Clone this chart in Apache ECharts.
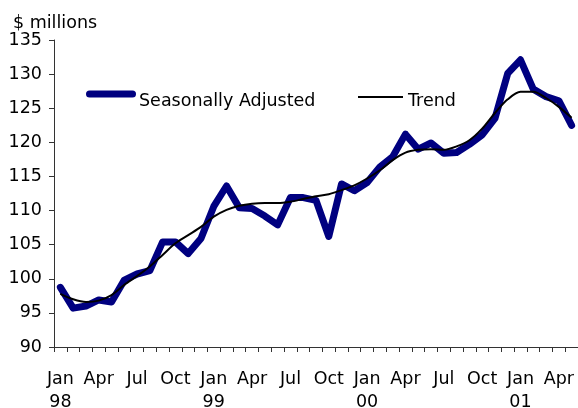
<!DOCTYPE html>
<html>
<head>
<meta charset="utf-8">
<script src="https://cdn.jsdelivr.net/npm/echarts@6/dist/echarts.min.js"></script>
<style>
html,body{margin:0;padding:0;background:#fff;}
#chart{width:578px;height:408px;}
</style>
</head>
<body>
<div id="chart"></div>
<script>
const months = ['Jan 98','Feb 98','Mar 98','Apr 98','May 98','Jun 98','Jul 98','Aug 98','Sep 98','Oct 98','Nov 98','Dec 98',
  'Jan 99','Feb 99','Mar 99','Apr 99','May 99','Jun 99','Jul 99','Aug 99','Sep 99','Oct 99','Nov 99','Dec 99',
  'Jan 00','Feb 00','Mar 00','Apr 00','May 00','Jun 00','Jul 00','Aug 00','Sep 00','Oct 00','Nov 00','Dec 00',
  'Jan 01','Feb 01','Mar 01','Apr 01','May 01'];
const seasonallyAdjusted = [98.75, 95.7, 96.0, 96.9, 96.6, 99.8, 100.7, 101.2, 105.4, 105.4, 103.7, 105.9,
  110.6, 113.6, 110.4, 110.3, 109.2, 107.9, 111.9, 111.9, 111.5, 106.2, 113.9, 112.9,
  114.1, 116.4, 117.9, 121.2, 119.0, 119.9, 118.4, 118.5, 119.7, 121.1, 123.5, 130.1,
  132.1, 127.8, 126.7, 126.1, 122.5];
const trend = [97.8, 97.0, 96.6, 96.8, 97.6, 99.1, 100.4, 101.8, 103.5, 105.2, 106.4, 107.6,
  109.1, 110.1, 110.7, 111.0, 111.1, 111.1, 111.3, 111.7, 112.1, 112.4, 113.0, 113.7,
  114.7, 115.9, 117.4, 118.5, 118.9, 119.0, 118.9, 119.4, 120.3, 122.0, 124.3, 126.3,
  127.4, 127.4, 126.5, 125.2, 123.6];
const seriesNames = ['Seasonally Adjusted', 'Trend'];
const yTicks = {min: 90, max: 135, interval: 5};
const unitLabel = '$ millions';

const FONT = '"DejaVu Sans", "Liberation Sans", Arial, sans-serif';
const FS = 17.5;
const chart = echarts.init(document.getElementById('chart'), null, {renderer: 'canvas'});
chart.setOption({
  animation: false,
  backgroundColor: '#fff',
  title: {
    text: unitLabel, left: 13, top: 14.5, padding: 0,
    textStyle: {fontFamily: FONT, fontSize: FS, fontWeight: 'normal', color: '#000'}
  },
  graphic: [
    {type: 'line', shape: {x1: 89.5, y1: 94, x2: 132.5, y2: 94},
     style: {stroke: '#000080', lineWidth: 7, lineCap: 'round'}, silent: true},
    {type: 'text', x: 139, y: 101,
     style: {text: seriesNames[0], fill: '#000', font: FS + 'px ' + FONT, verticalAlign: 'middle', align: 'left'}, silent: true},
    {type: 'line', shape: {x1: 358, y1: 97, x2: 403, y2: 97},
     style: {stroke: '#000', lineWidth: 2}, silent: true},
    {type: 'text', x: 408, y: 101,
     style: {text: seriesNames[1], fill: '#000', font: FS + 'px ' + FONT, verticalAlign: 'middle', align: 'left'}, silent: true}
  ],
  grid: {left: 54, top: 40, width: 524, height: 307, containLabel: false, outerBoundsMode: 'none'},
  xAxis: {
    type: 'category', data: months, boundaryGap: true,
    axisLine: {lineStyle: {color: '#333', width: 1}},
    axisTick: {show: true, interval: 0, length: 5, lineStyle: {color: '#333'}},
    axisLabel: {
      interval: 2, margin: 21, fontFamily: FONT, fontSize: FS, color: '#000', lineHeight: 23,
      formatter: function (v) {
        const p = v.split(' ');
        return p[0] === 'Jan' ? p[0] + '\n' + p[1] : p[0];
      }
    },
    splitLine: {show: false}
  },
  yAxis: {
    type: 'value', min: yTicks.min, max: yTicks.max, interval: yTicks.interval,
    axisLine: {show: true, lineStyle: {color: '#333', width: 1}},
    axisTick: {show: true, length: 5, lineStyle: {color: '#333'}},
    axisLabel: {margin: 12, fontFamily: FONT, fontSize: FS, color: '#000'},
    splitLine: {show: false}
  },
  series: [
    {
      name: seriesNames[0], type: 'line', data: seasonallyAdjusted,
      symbol: 'none', smooth: false,
      lineStyle: {color: '#000080', width: 7, cap: 'round', join: 'round'},
      itemStyle: {color: '#000080'}, z: 2
    },
    {
      name: seriesNames[1], type: 'line', data: trend,
      symbol: 'none', smooth: 0.3,
      lineStyle: {color: '#000', width: 2},
      itemStyle: {color: '#000'}, z: 3
    }
  ]
});
</script>
</body>
</html>
